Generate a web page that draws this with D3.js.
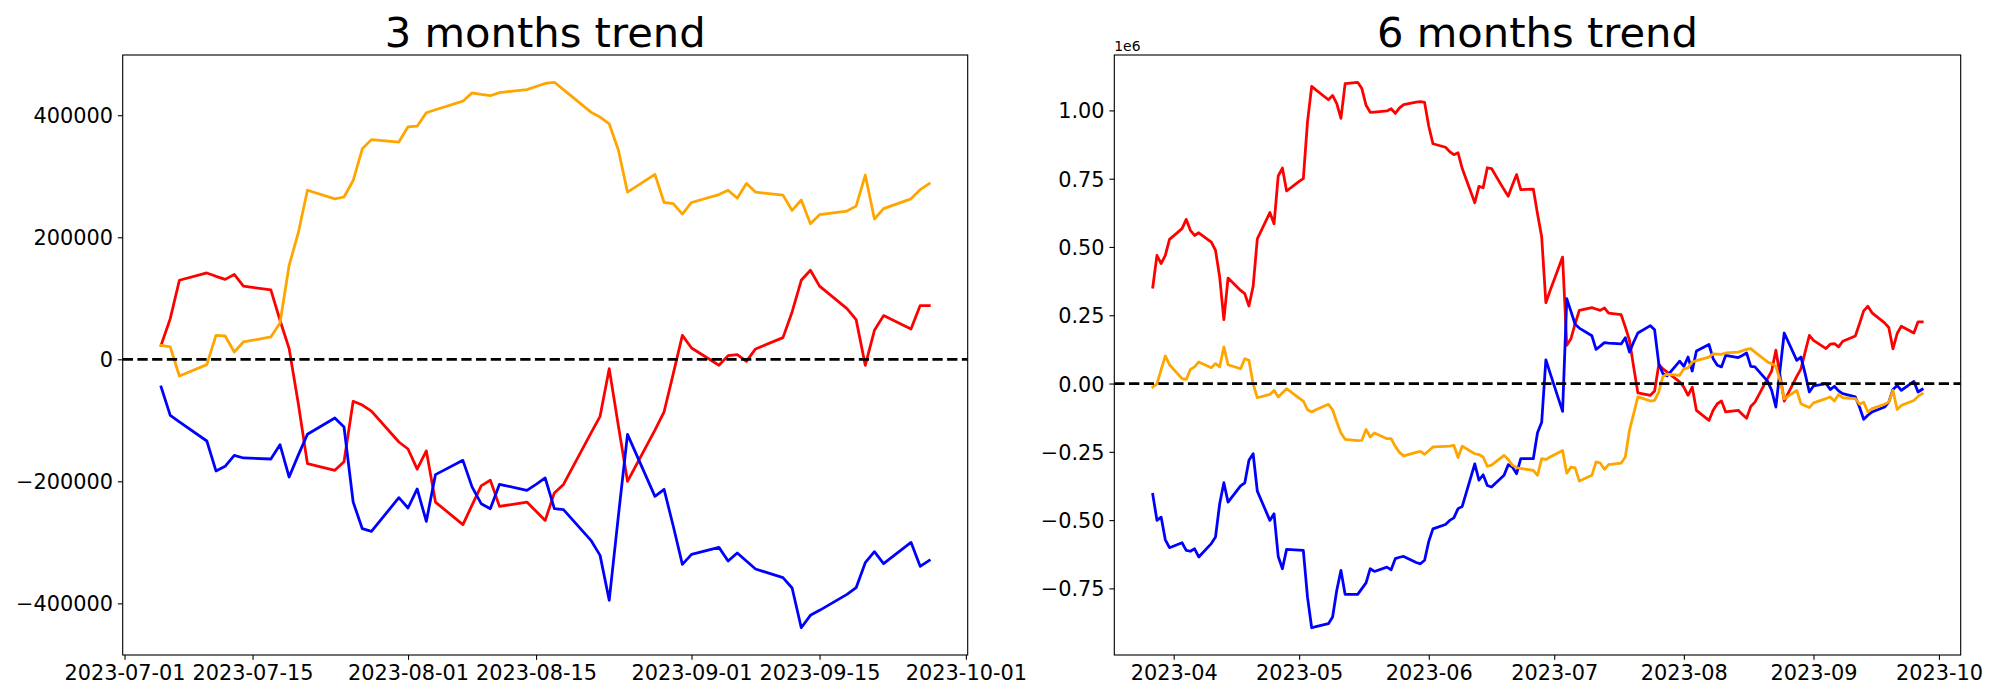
<!DOCTYPE html>
<html><head><meta charset="utf-8">
<script src="https://cdn.jsdelivr.net/npm/d3@7"></script>
<style>body{margin:0;background:#fff} svg{display:block} text{font-family:"DejaVu Sans",sans-serif}</style>
</head><body><svg id="chart" width="2000" height="700"></svg>
<script>
// ---------- 3 months data ----------
const dates3 = ["2023-07-05","2023-07-06","2023-07-07","2023-07-10","2023-07-11","2023-07-12","2023-07-13","2023-07-14","2023-07-17","2023-07-18","2023-07-19","2023-07-20","2023-07-21","2023-07-24","2023-07-25","2023-07-26","2023-07-27","2023-07-28","2023-07-31","2023-08-01","2023-08-02","2023-08-03","2023-08-04","2023-08-07","2023-08-08","2023-08-09","2023-08-10","2023-08-11","2023-08-14","2023-08-15","2023-08-16","2023-08-17","2023-08-18","2023-08-21","2023-08-22","2023-08-23","2023-08-24","2023-08-25","2023-08-28","2023-08-29","2023-08-30","2023-08-31","2023-09-01","2023-09-04","2023-09-05","2023-09-06","2023-09-07","2023-09-08","2023-09-11","2023-09-12","2023-09-13","2023-09-14","2023-09-15","2023-09-18","2023-09-19","2023-09-20","2023-09-21","2023-09-22","2023-09-25","2023-09-26","2023-09-27"];
const red3 = [23000,66700,129500,141500,136000,131000,139000,120000,113700,64000,17500,-72600,-171000,-182000,-168000,-68800,-75000,-85000,-135500,-147000,-180000,-150000,-234000,-271000,-239000,-207500,-198000,-241000,-234000,-249000,-264000,-219000,-205000,-121000,-93400,-15300,-109000,-200000,-116000,-86000,-24000,39300,18600,-9800,6000,7600,-3300,17000,35500,77600,129500,146000,120000,83000,65000,-9800,47500,71600,49700,88000,88000];
const blue3 = [-45400,-91800,-102700,-133900,-183000,-175400,-157400,-161700,-163400,-139900,-192900,-157000,-122900,-96200,-110900,-233900,-277600,-282000,-226800,-243700,-212500,-265600,-189000,-165600,-209000,-236600,-244800,-204900,-214700,-205000,-194500,-244800,-246400,-296700,-321300,-395000,-257000,-123000,-224600,-213100,-273200,-336000,-319600,-308200,-330600,-317500,-330600,-343700,-357900,-374800,-439900,-419600,-411400,-385200,-374300,-333300,-315300,-334900,-300000,-339300,-329500];
const orange3 = [23000,20200,-27300,-8700,39300,38200,12000,28400,36600,59600,154000,207000,277000,263000,266000,293000,345000,360000,356000,381000,382000,404000,409000,423000,436600,434000,432000,437000,442000,447000,452000,454000,442000,405000,397000,386000,343000,274000,303000,257000,255000,238000,257000,270000,277000,264000,288000,274000,269000,244000,261000,222000,237000,243000,251000,302000,230000,247000,263000,278000,288000];
const xTicks3 = ["2023-07-01","2023-07-15","2023-08-01","2023-08-15","2023-09-01","2023-09-15","2023-10-01"];
const xTickLabels3 = ["2023-07-01","2023-07-15","2023-08-01","2023-08-15","2023-09-01","2023-09-15","2023-10-01"];
const yTicks3 = [-400000,-200000,0,200000,400000];

// ---------- 6 months data ----------
const dates6 = ["2023-03-27","2023-03-28","2023-03-29","2023-03-30","2023-03-31",
"2023-04-03","2023-04-04","2023-04-05","2023-04-06","2023-04-07",
"2023-04-10","2023-04-11","2023-04-12","2023-04-13","2023-04-14",
"2023-04-17","2023-04-18","2023-04-19","2023-04-20","2023-04-21",
"2023-04-24","2023-04-25","2023-04-26","2023-04-27","2023-04-28",
"2023-05-01","2023-05-02","2023-05-03","2023-05-04","2023-05-05",
"2023-05-08","2023-05-09","2023-05-10","2023-05-11","2023-05-12",
"2023-05-15","2023-05-16","2023-05-17","2023-05-18","2023-05-19",
"2023-05-22","2023-05-23","2023-05-24","2023-05-25","2023-05-26",
"2023-05-29","2023-05-30","2023-05-31","2023-06-01","2023-06-02",
"2023-06-05","2023-06-06","2023-06-07","2023-06-08","2023-06-09",
"2023-06-12","2023-06-13","2023-06-14","2023-06-15","2023-06-16",
"2023-06-19","2023-06-20","2023-06-21","2023-06-22","2023-06-23",
"2023-06-26","2023-06-27","2023-06-28","2023-06-29","2023-06-30",
"2023-07-03","2023-07-04","2023-07-05","2023-07-06","2023-07-07",
"2023-07-10","2023-07-11","2023-07-12","2023-07-13","2023-07-14",
"2023-07-17","2023-07-18","2023-07-19","2023-07-20","2023-07-21",
"2023-07-24","2023-07-25","2023-07-26","2023-07-27","2023-07-28",
"2023-07-31","2023-08-01","2023-08-02","2023-08-03","2023-08-04",
"2023-08-07","2023-08-08","2023-08-09","2023-08-10","2023-08-11",
"2023-08-14","2023-08-15","2023-08-16","2023-08-17","2023-08-18",
"2023-08-21","2023-08-22","2023-08-23","2023-08-24","2023-08-25",
"2023-08-28","2023-08-29","2023-08-30","2023-08-31","2023-09-01",
"2023-09-04","2023-09-05","2023-09-06","2023-09-07","2023-09-08",
"2023-09-11","2023-09-12","2023-09-13","2023-09-14","2023-09-15",
"2023-09-18","2023-09-19","2023-09-20","2023-09-21","2023-09-22",
"2023-09-25","2023-09-26","2023-09-27"];
const red6 = [353000,469000,439000,469000,528000, 567000,601000,561000,542000,552000, 518000,488000,390000,234000,386000, 341000,329000,284000,356000,530000, 626000,585000,760000,789000,705000, 740000,750000,958000,1088000,1075000, 1039000,1055000,1025000,971000,1098000, 1103000,1080000,1019000,993000,994000, 998000,1006000,989000,1009000,1021000, 1030000,1032000,1029000,942000,878000, 865000,849000,838000,845000,787000, 662000,722000,717000,790000,787000, 710000,686000,727000,765000,710000, 712000,622000,537000,296000,340000, 463000,140000,164000,219000,268000, 278000,273000,268000,277000,258000, 252000,207000,158000,60000,-34000, -43000,-27000,69000,54000,42000, 6000,-13000,-43000,-13000,-98000, -135000,-98000,-74000,-64000,-104000, -98000,-113000,-127000,-84000,-68000, 18000,46000,122000,30000,-64000, 26000,54000,115000,176000,158000, 128000,144000,146000,134000,155000, 174000,219000,266000,283000,259000, 222000,205000,127000,183000,210000, 185000,226000,226000];
const blue6 = [-406000,-501000,-489000,-572000,-601000, -583000,-611000,-614000,-605000,-635000, -586000,-562000,-440000,-363000,-434000, -375000,-364000,-281000,-257000,-394000, -501000,-477000,-633000,-678000,-607000, -610000,-611000,-782000,-894000,-890000, -879000,-855000,-757000,-684000,-772000, -772000,-751000,-730000,-678000,-688000, -672000,-682000,-641000,-636000,-633000, -655000,-660000,-647000,-578000,-532000, -516000,-501000,-492000,-458000,-450000, -294000,-354000,-334000,-373000,-379000, -336000,-297000,-306000,-330000,-275000, -275000,-180000,-142000,87000,39000, -102000,311000,264000,217000,203000, 175000,125000,137000,150000,148000, 145000,168000,115000,152000,185000, 212000,197000,73000,36000,28000, 82000,63000,97000,46000,119000, 143000,91000,67000,61000,103000, 95000,103000,112000,63000,61000, 9000,-25000,-86000,50000,185000, 85000,97000,36000,-31000,-9000, 0,-22000,-10000,-27000,-37000, -49000,-86000,-131000,-116000,-104000, -86000,-68000,-22000,-7000,-25000, 8000,-31000,-21000];
const orange6 = [-13000,-1000,51000,101000,69000, 18000,15000,52000,61000,79000, 58000,73000,61000,134000,69000, 54000,91000,85000,-1000,-52000, -40000,-25000,-49000,-34000,-19000, -53000,-64000,-96000,-104000,-96000, -76000,-96000,-141000,-181000,-204000, -209000,-208000,-168000,-196000,-181000, -202000,-202000,-230000,-252000,-265000, -252000,-248000,-259000,-246000,-232000, -230000,-229000,-226000,-271000,-229000, -257000,-260000,-269000,-303000,-299000, -263000,-278000,-299000,-308000,-311000, -318000,-336000,-275000,-278000,-269000, -245000,-328000,-306000,-309000,-357000, -336000,-287000,-291000,-314000,-297000, -291000,-269000,-171000,-110000,-49000, -64000,-62000,-31000,26000,34000, 30000,54000,57000,79000,84000, 97000,109000,108000,107000,112000, 115000,120000,125000,128000,115000, 79000,73000,63000,12000,-56000, -25000,-74000,-81000,-88000,-71000, -55000,-49000,-64000,-40000,-52000, -55000,-76000,-68000,-104000,-92000, -76000,-68000,-25000,-95000,-80000, -62000,-47000,-37000];
const xTicks6 = ["2023-04-01","2023-05-01","2023-06-01","2023-07-01","2023-08-01","2023-09-01","2023-10-01"];
const xTickLabels6 = ["2023-04","2023-05","2023-06","2023-07","2023-08","2023-09","2023-10"];
const yTicks6 = [-750000,-500000,-250000,0,250000,500000,750000,1000000];

const seriesColors = {red:"#ff0000", blue:"#0000ff", orange:"#ffa500"};

// ---------- drawing ----------
const svg = d3.select("#chart");
const parse = d3.utcParse("%Y-%m-%d");
const MINUS = "\u2212";
const PT = 100/72;
const LW = 2*PT;

function panel(o){
  const t = o.dates.map(parse);
  const t0 = t[0], t1 = t[t.length-1], span = t1 - t0;
  const x = d3.scaleUtc()
    .domain([new Date(+t0 - 0.05*span), new Date(+t1 + 0.05*span)])
    .range([o.box.x0, o.box.x1]);
  const all = o.series.flatMap(s => s.values);
  const lo = d3.min(all), hi = d3.max(all), r = hi - lo;
  const y = d3.scaleLinear().domain([lo - 0.05*r, hi + 0.05*r]).range([o.box.y1, o.box.y0]);
  const g = svg.append("g");

  const line = d3.line().x(d => x(d[0])).y(d => y(d[1]));
  o.series.forEach(s => {
    g.append("path")
      .datum(s.values.map((v,i) => [t[i], v]))
      .attr("d", line)
      .attr("fill","none").attr("stroke", s.color)
      .attr("stroke-width", LW)
      .attr("stroke-linejoin","round").attr("stroke-linecap","square");
  });
  g.append("line")
    .attr("x1", o.box.x0).attr("x2", o.box.x1)
    .attr("y1", y(0)).attr("y2", y(0))
    .attr("stroke","#000").attr("stroke-width", LW)
    .attr("stroke-dasharray", `${3.7*LW},${1.6*LW}`);

  const xa = d3.axisBottom(x)
    .tickValues(o.xTicks.map(parse))
    .tickFormat((d,i) => o.xTickLabels[i])
    .tickSize(3.5*PT).tickPadding(3.5*PT).tickSizeOuter(0);
  const ya = d3.axisLeft(y)
    .tickValues(o.yTicks)
    .tickFormat(o.yFormat)
    .tickSize(3.5*PT).tickPadding(3.5*PT).tickSizeOuter(0);

  const gx = g.append("g").attr("transform", `translate(0,${o.box.y1})`).call(xa);
  const gy = g.append("g").attr("transform", `translate(${o.box.x0},0)`).call(ya);
  [gx, gy].forEach(a => {
    a.select(".domain").remove();
    a.selectAll(".tick line").attr("stroke","#000").attr("stroke-width", 0.8*PT);
    a.selectAll(".tick text").attr("fill","#000")
      .style("font-family","'DejaVu Sans', sans-serif").style("font-size", (15*PT)+"px");
  });
  gy.selectAll(".tick text").attr("dy","0.36em");

  g.append("rect")
    .attr("x", o.box.x0).attr("y", o.box.y0)
    .attr("width", o.box.x1 - o.box.x0).attr("height", o.box.y1 - o.box.y0)
    .attr("fill","none").attr("stroke","#000").attr("stroke-width", 0.8*PT);

  g.append("text")
    .attr("x", (o.box.x0 + o.box.x1)/2).attr("y", o.box.y0 - 6*PT)
    .attr("text-anchor","middle")
    .style("font-size", (30*PT)+"px").attr("fill","#000")
    .text(o.title);

  if (o.offsetText) {
    g.append("text")
      .attr("x", o.box.x0).attr("y", o.box.y0 - 4.5)
      .style("font-size", (10*PT)+"px").attr("fill","#000")
      .text(o.offsetText);
  }
}

const fmtInt = d => (d < 0 ? MINUS : "") + Math.abs(d).toFixed(0);
const fmt6 = d => (d < 0 ? MINUS : "") + Math.abs(d/1e6).toFixed(2);

panel({
  box:{x0:122.7, x1:967.7, y0:55, y1:655},
  dates: dates3,
  series:[
    {values: red3, color: seriesColors.red},
    {values: blue3, color: seriesColors.blue},
    {values: orange3, color: seriesColors.orange}
  ],
  xTicks: xTicks3, xTickLabels: xTickLabels3,
  yTicks: yTicks3, yFormat: fmtInt,
  title: "3 months trend"
});

panel({
  box:{x0:1114.3, x1:1960.7, y0:55, y1:655},
  dates: dates6,
  series:[
    {values: red6, color: seriesColors.red},
    {values: blue6, color: seriesColors.blue},
    {values: orange6, color: seriesColors.orange}
  ],
  xTicks: xTicks6, xTickLabels: xTickLabels6,
  yTicks: yTicks6, yFormat: fmt6,
  title: "6 months trend",
  offsetText: "1e6"
});
</script>
</body></html>
